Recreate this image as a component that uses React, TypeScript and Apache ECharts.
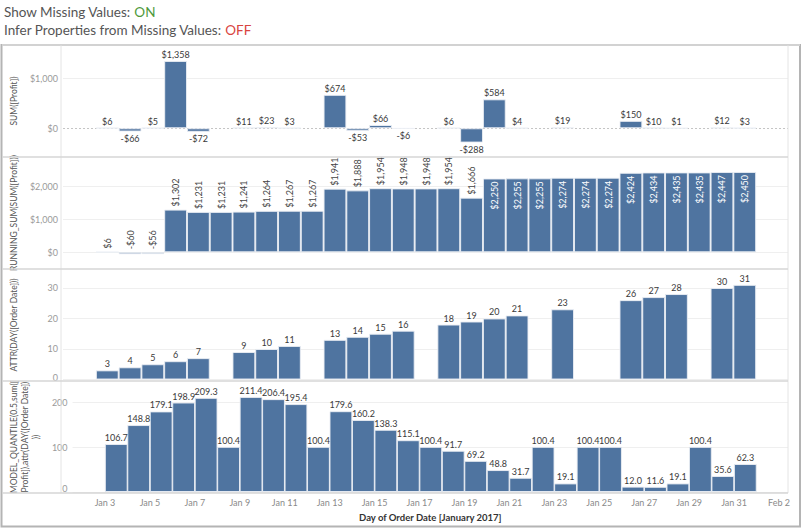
import React, { useEffect, useRef } from "react";
import * as echarts from "echarts";

// ---------------- data ----------------
const days = [3, 4, 5, 6, 7, 8, 9, 10, 11, 12, 13, 14, 15, 16, 17, 18, 19, 20, 21, 22, 23, 24, 25, 26, 27, 28, 29, 30, 31];
const profit: (number | null)[] = [6, -66, 5, 1358, -72, null, 11, 23, 3, null, 674, -53, 66, -6, null, 6, -288, 584, 4, null, 19, null, null, 150, 10, 1, null, 12, 3];
const runningProfit: number[] = [6, -60, -56, 1302, 1231, 1231, 1241, 1264, 1267, 1267, 1941, 1888, 1954, 1948, 1948, 1954, 1666, 2250, 2255, 2255, 2274, 2274, 2274, 2424, 2434, 2435, 2435, 2447, 2450];
const attrDay: (number | null)[] = [3, 4, 5, 6, 7, null, 9, 10, 11, null, 13, 14, 15, 16, null, 18, 19, 20, 21, null, 23, null, null, 26, 27, 28, null, 30, 31];
const quantile: number[] = [106.7, 148.8, 179.1, 198.9, 209.3, 100.4, 211.4, 206.4, 195.4, 100.4, 179.6, 160.2, 138.3, 115.1, 100.4, 91.7, 69.2, 48.8, 31.7, 100.4, 19.1, 100.4, 100.4, 12.0, 11.6, 19.1, 100.4, 35.6, 62.3];

const profitTicks = [0, 1000];
const runningTicks = [0, 1000, 2000];
const dayTicks = [0, 10, 20, 30];
const quantileTicks = [0, 100, 200];
const xTicks = [3, 5, 7, 9, 11, 13, 15, 17, 19, 21, 23, 25, 27, 29, 31, 33];

const yTitles = [
  "SUM([Profit])",
  "RUNNING_SUM(SUM([Profit]))",
  "ATTR(DAY([Order Date]))",
  "MODEL_QUANTILE(0.5,sum([\nProfit]),attr(DAY([Order Date])\n))",
];
const xTitle = "Day of Order Date [January 2017]";

// ---------------- layout / style ----------------
const FONT = 'Lato, "Noto Sans", sans-serif';
const BLUE = "#4f74a0";
const GRID_LEFT = 61;
const GRID_RIGHT = 788;
const PANEL_TOPS = [45, 157, 269, 381];
const PANEL_H = 112;
const X_MIN = 1.555;
const X_MAX = 33.4;
const Y_RANGES: [number, number][] = [
  [-579, 1679],
  [-509, 2905],
  [-0.49, 36.2],
  [-2.2, 246.7],
];
const BAR_W = (GRID_RIGHT - GRID_LEFT) / (X_MAX - X_MIN);
const RUNNING_INSIDE_ABOVE = 2100;

const money = (v: number) => (v < 0 ? "-$" : "$") + Math.abs(Math.round(v)).toLocaleString("en-US");
const dayLabel = (d: number) => (d <= 31 ? `Jan ${d}` : `Feb ${d - 31}`);

function buildData(vals: (number | null)[], labelFor?: (v: number) => any) {
  const out: any[] = [];
  days.forEach((d, i) => {
    const v = vals[i];
    if (v == null) return;
    const item: any = { value: [d + 0.5, v] };
    if (labelFor) item.label = labelFor(v);
    out.push(item);
  });
  return out;
}

function gridLines(ticks: number[], zeroDotted = false) {
  return {
    silent: true,
    symbol: "none",
    z: 1,
    animation: false,
    label: { show: false },
    emphasis: { disabled: true },
    lineStyle: { color: "#efefef", type: "solid", width: 1 },
    data: ticks.map((t) =>
      t === 0 && zeroDotted
        ? { yAxis: t, lineStyle: { color: "#c4c4c4", type: [2, 2], width: 1 } }
        : { yAxis: t }
    ),
  };
}

const labelBase = { show: true, fontFamily: FONT, fontSize: 9, color: "#3a3a3a", distance: 2 };
const barBase = {
  type: "bar",
  barWidth: BAR_W,
  itemStyle: { color: BLUE, borderColor: "rgba(235,238,244,0.9)", borderWidth: 1 },
  emphasis: { disabled: true },
};

function buildOption() {
  const grids = PANEL_TOPS.map((t) => ({ left: GRID_LEFT, right: 802 - GRID_RIGHT, top: t, height: PANEL_H }));
  const xAxes = PANEL_TOPS.map((_, i) => ({
    gridIndex: i,
    type: "value",
    min: X_MIN,
    max: X_MAX,
    show: i === 3,
    axisLine: { show: false },
    axisTick: { show: false },
    splitLine: { show: false },
    axisLabel: {
      customValues: xTicks,
      formatter: (v: number) => dayLabel(Math.round(v)),
      color: "#8a8a8a",
      fontSize: 9,
      fontFamily: FONT,
      margin: 5,
    },
    name: i === 3 ? xTitle : "",
    nameLocation: "middle",
    nameGap: 19,
    nameTextStyle: { fontFamily: FONT, fontSize: 9.5, fontWeight: "bold", color: "#333" },
  }));
  const tickSets = [profitTicks, runningTicks, dayTicks, quantileTicks];
  const tickFmt = [
    (v: number) => money(v),
    (v: number) => money(v),
    (v: number) => (v === 0 ? "{z|0}" : String(v)),
    (v: number) => (v === 0 ? "{w|0}" : String(v)),
  ];
  const yAxes = PANEL_TOPS.map((_, i) => ({
    gridIndex: i,
    type: "value",
    min: Y_RANGES[i][0],
    max: Y_RANGES[i][1],
    axisLine: { show: false },
    axisTick: { show: false },
    splitLine: { show: false },
    axisLabel: {
      customValues: tickSets[i],
      formatter: tickFmt[i],
      color: "#9a9a9a",
      fontSize: 9,
      fontFamily: FONT,
      margin: 5,
      rich: {
        z: { fontSize: 9, fontFamily: FONT, color: "#9a9a9a", padding: [0, 0, 4, 0] },
        w: { fontSize: 9, fontFamily: FONT, color: "#9a9a9a", padding: [0, 0, 8, 0] },
      },
    },
    name: yTitles[i],
    nameLocation: "middle",
    nameRotate: 90,
    nameGap: i === 3 ? 25 : 44,
    nameTextStyle: { fontFamily: FONT, fontSize: 8.5, color: "#555", lineHeight: 11 },
  }));

  const series: any[] = [
    {
      ...barBase,
      xAxisIndex: 0,
      yAxisIndex: 0,
      data: buildData(profit, (v) => ({ position: v < 0 ? "bottom" : "top" })),
      label: { ...labelBase, formatter: (p: any) => money(p.value[1]) },
      markLine: gridLines(profitTicks, true),
    },
    {
      ...barBase,
      xAxisIndex: 1,
      yAxisIndex: 1,
      data: buildData(runningProfit, (v) =>
        v > RUNNING_INSIDE_ABOVE
          ? { position: "insideTop", rotate: 90, align: "right", verticalAlign: "middle", color: "#ffffff", distance: 3 }
          : { position: "top", rotate: 90, align: "left", verticalAlign: "middle", color: "#444", distance: 3 }
      ),
      label: { ...labelBase, formatter: (p: any) => money(p.value[1]) },
      markLine: gridLines(runningTicks),
    },
    {
      ...barBase,
      xAxisIndex: 2,
      yAxisIndex: 2,
      data: buildData(attrDay),
      label: { ...labelBase, position: "top", formatter: (p: any) => String(p.value[1]) },
      markLine: gridLines(dayTicks),
    },
    {
      ...barBase,
      xAxisIndex: 3,
      yAxisIndex: 3,
      data: buildData(quantile),
      label: { ...labelBase, position: "top", formatter: (p: any) => Number(p.value[1]).toFixed(1) },
      markLine: gridLines(quantileTicks),
    },
  ];

  const sepColor = "#d6d6d6";
  const graphic: any[] = [
    {
      type: "text",
      left: 4,
      top: 5,
      style: {
        text: "{t|Show Missing Values: }{on|ON}",
        rich: {
          t: { fill: "#555555", fontSize: 13.5, fontFamily: FONT },
          on: { fill: "#4f9a3c", fontSize: 13.5, fontFamily: FONT },
        },
      },
    },
    {
      type: "text",
      left: 4,
      top: 23,
      style: {
        text: "{t|Infer Properties from Missing Values: }{off|OFF}",
        rich: {
          t: { fill: "#555555", fontSize: 13.5, fontFamily: FONT },
          off: { fill: "#d9453f", fontSize: 13.5, fontFamily: FONT },
        },
      },
    },
    // outer frame
    { type: "rect", shape: { x: 1.5, y: 45, width: 798.5, height: 481.5 }, style: { fill: "none", stroke: "#b4b4b4", lineWidth: 2 }, silent: true, z: 10 },
    { type: "line", shape: { x1: 2, y1: 45, x2: 800, y2: 45 }, style: { stroke: "#dddddd", lineWidth: 1.5 }, silent: true, z: 11 },
    // vertical axis line and right plot edge
    { type: "line", shape: { x1: GRID_LEFT, y1: 45, x2: GRID_LEFT, y2: 493 }, style: { stroke: "#e4e4e4", lineWidth: 1 }, silent: true, z: 10 },
    { type: "line", shape: { x1: GRID_RIGHT, y1: 45, x2: GRID_RIGHT, y2: 493 }, style: { stroke: "#e4e4e4", lineWidth: 1 }, silent: true, z: 10 },
    // panel separators
    ...[157, 269, 381, 493].map((y) => ({
      type: "line",
      shape: { x1: 2, y1: y, x2: GRID_RIGHT, y2: y },
      style: { stroke: sepColor, lineWidth: 1.5 },
      silent: true,
      z: 10,
    })),
  ];

  return {
    animation: false,
    backgroundColor: "#ffffff",
    textStyle: { fontFamily: FONT },
    grid: grids,
    xAxis: xAxes,
    yAxis: yAxes,
    series,
    graphic,
  };
}

export default function App() {
  const ref = useRef<HTMLDivElement>(null);
  useEffect(() => {
    if (!ref.current) return;
    const chart = echarts.init(ref.current, null, { renderer: "svg" });
    chart.setOption(buildOption() as any);
    return () => chart.dispose();
  }, []);
  return (
    <div
      ref={ref}
      style={{ position: "absolute", left: 0, top: 0, width: 802, height: 529, background: "#fff" }}
    />
  );
}
